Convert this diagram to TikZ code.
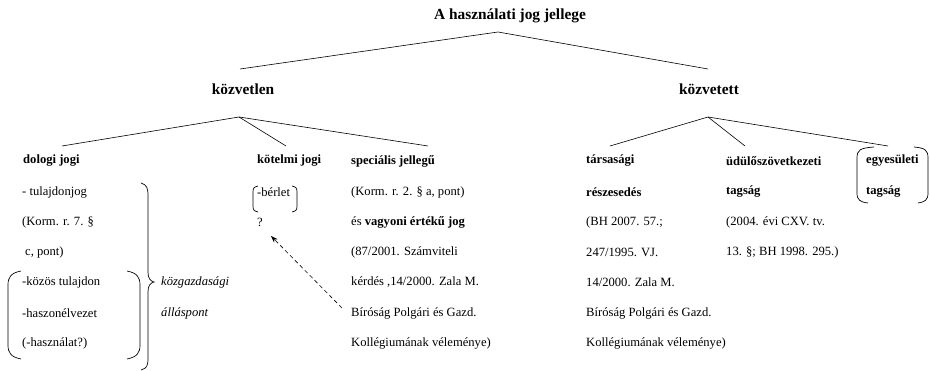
\documentclass[tikz,border=0pt]{standalone}
\usepackage{fontspec}
\setmainfont{Liberation Serif}
\usetikzlibrary{arrows.meta}
\begin{document}
\begin{tikzpicture}[x=1pt,y=-1pt,
  txt/.style={anchor=west,inner sep=0pt,font=\fontsize{12.6}{14}\selectfont},
  lbl/.style={anchor=west,inner sep=0pt,font=\fontsize{12.6}{14}\selectfont\bfseries},
  head/.style={anchor=center,inner sep=0pt,font=\fontsize{15.4}{17}\selectfont\bfseries},
  conn/.style={line width=0.6pt},
  brk/.style={line width=0.7pt}]
\useasboundingbox (0,0) rectangle (930,371);
% headings
\node[head] (title) at (510,16) {A használati jog jellege};
\node[head] (kl) at (243,89) {közvetlen};
\node[head] (kt) at (709,89) {közvetett};
% connector points
\coordinate (a0) at (498,32);
\coordinate (a0l) at (240,69);
\coordinate (a0r) at (708,69);
\coordinate (a1) at (239,117);
\coordinate (a1a) at (62,146);
\coordinate (a1b) at (286,146);
\coordinate (a1c) at (428,146);
\coordinate (a2) at (708,117);
\coordinate (a2a) at (610,146);
\coordinate (a2b) at (745,146);
\coordinate (a2c) at (888,146);
\draw[conn] (a0l) -- (a0) -- (a0r);
\draw[conn] (a1a) -- (a1) -- (a1c);
\draw[conn] (a1) -- (a1b);
\draw[conn] (a2a) -- (a2) -- (a2c);
\draw[conn] (a2) -- (a2b);
% column 1: dologi jogi
\node[lbl] (d0) at (23,161) {dologi jogi};
\node[txt] (d1) at (22,192) {- tulajdonjog};
\node[txt] (d2) at (22,222) {(Korm. r. 7. §};
\node[txt] (d3) at (25,252) {c, pont)};
\node[txt] (d4) at (22,282) {-közös tulajdon};
\node[txt] (d5) at (22,313) {-haszonélvezet};
\node[txt] (d6) at (22,343) {(-használat?)};
\node[txt,font=\fontsize{12.6}{14}\selectfont\itshape] (k1) at (161,282) {közgazdasági};
\node[txt,font=\fontsize{12.6}{14}\selectfont\itshape] (k2) at (161,313) {álláspont};
% big brace
\draw[brk] (141,183) .. controls (147,185) and (148,188) .. (148,196)
  -- (148,272) .. controls (148,278) and (150,281) .. (154,282)
  .. controls (150,283) and (148,286) .. (148,292)
  -- (148,358) .. controls (148,366) and (147,368) .. (141,370);
% parentheses
\draw[brk] (21,271) .. controls (11,273) and (8,277) .. (8,285) -- (8,345)
  .. controls (8,353) and (11,357) .. (21,359);
\draw[brk] (127,271) .. controls (137,273) and (140,277) .. (140,285) -- (140,345)
  .. controls (140,353) and (137,357) .. (127,359);
% column 2: kötelmi jogi
\node[lbl] (c0) at (257,161) {kötelmi jogi};
\node[txt] (c1) at (257,192) {-bérlet};
\node[txt] (q) at (257,222) {?};
\draw[brk] (258,186) .. controls (254,187) and (253,188) .. (253,192) -- (253,206)
  .. controls (253,210) and (254,211) .. (258,212);
\draw[brk] (292,186) .. controls (296,187) and (297,188) .. (297,192) -- (297,206)
  .. controls (297,210) and (296,211) .. (292,212);
% column 3: speciális jellegű
\node[lbl] (s0) at (351,161) {speciális jellegű};
\node[txt] (s1) at (351,192) {(Korm. r. 2. § a, pont)};
\node[txt] (s2) at (351,222) {és \textbf{vagyoni értékű jog}};
\node[txt] (s3) at (351,252) {(87/2001. Számviteli};
\node[txt] (s4) at (351,282) {kérdés ,14/2000. Zala M.};
\node[txt] (s5) at (351,313) {Bíróság Polgári és Gazd.};
\node[txt] (s6) at (351,343) {Kollégiumának véleménye)};
% dashed arrow
\coordinate (arrT) at (342,308);
\coordinate (arrH) at (271,236);
\draw[conn,dashed,dash pattern=on 4pt off 3pt,-{Stealth[length=7pt,width=5pt]}] (arrT) -- (arrH);
% column 4: társasági
\node[lbl] (t0) at (586,161) {társasági};
\node[lbl] (t1) at (586,192) {részesedés};
\node[txt] (t2) at (586,222) {(BH 2007. 57.;};
\node[txt] (t3) at (586,252) {247/1995. VJ.};
\node[txt] (t4) at (586,282) {14/2000. Zala M.};
\node[txt] (t5) at (586,313) {Bíróság Polgári és Gazd.};
\node[txt] (t6) at (586,343) {Kollégiumának véleménye)};
% column 5: üdülőszövetkezeti
\node[lbl] (u0) at (726,161) {üdülőszövetkezeti};
\node[lbl] (u1) at (726,192) {tagság};
\node[txt] (u2) at (726,222) {(2004. évi CXV. tv.};
\node[txt] (u3) at (726,252) {13. §; BH 1998. 295.)};
% column 6: egyesületi
\node[lbl] (e0) at (866,161) {egyesületi};
\node[lbl] (e1) at (866,192) {tagság};
\draw[brk] (874,147) .. controls (860,148) and (857,150) .. (857,158) -- (857,193)
  .. controls (857,200) and (860,202) .. (868,203);
\draw[brk] (914,147) .. controls (925,148) and (928,150) .. (928,158) -- (928,193)
  .. controls (928,200) and (925,202) .. (918,203);
\end{tikzpicture}
\end{document}
